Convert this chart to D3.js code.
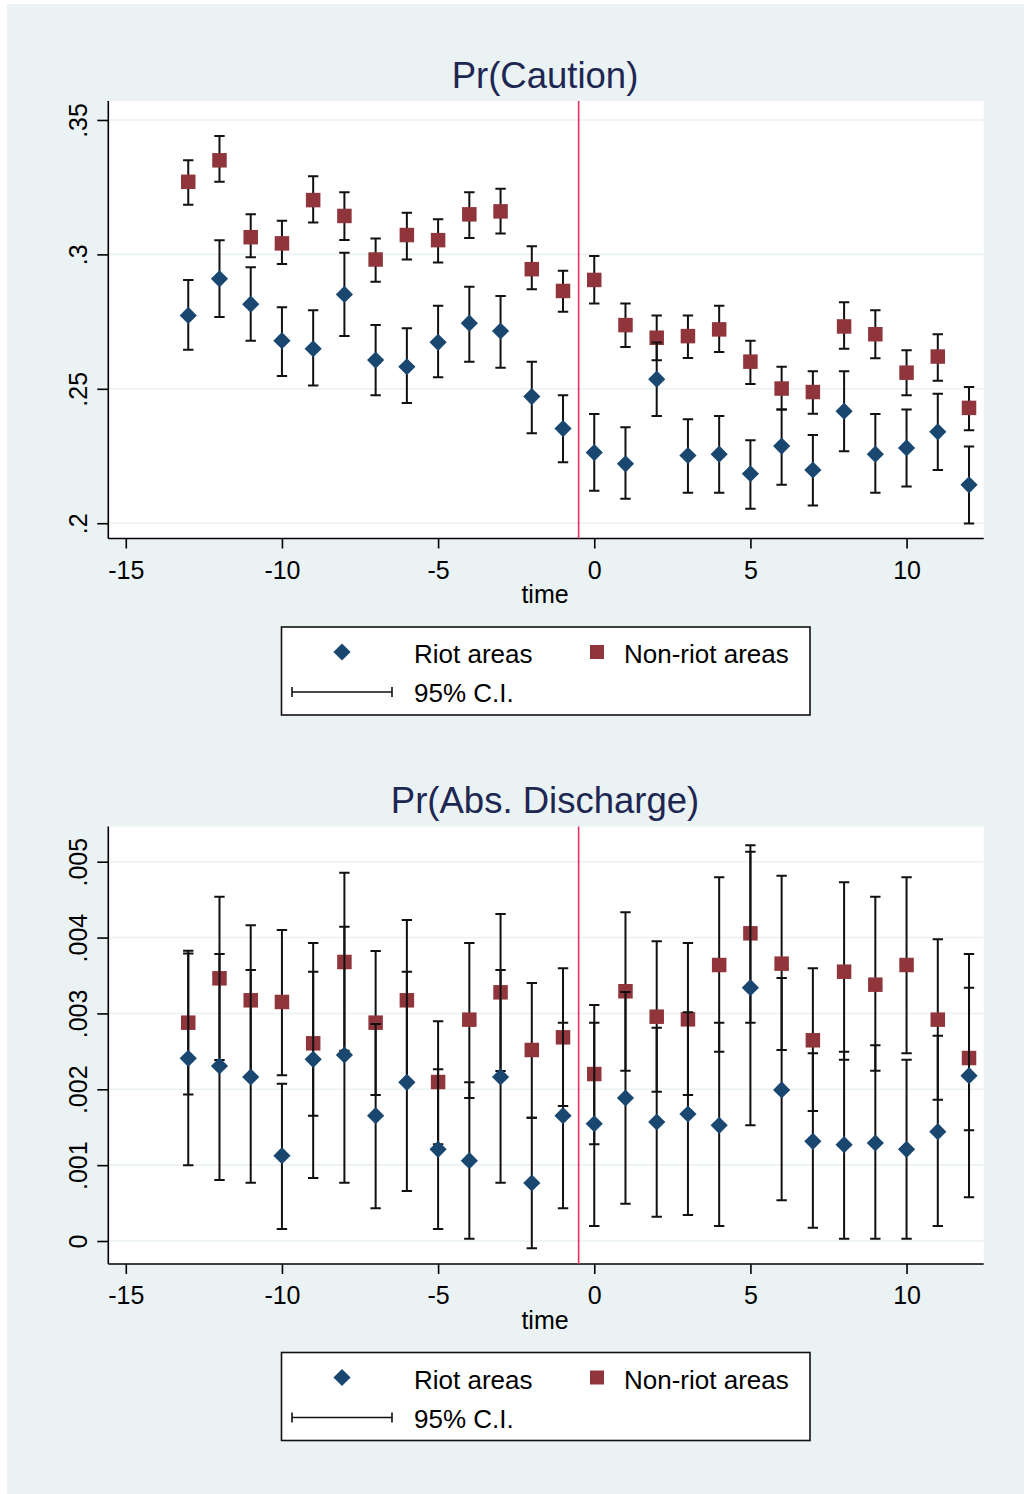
<!DOCTYPE html>
<html>
<head>
<meta charset="utf-8">
<script src="https://cdn.jsdelivr.net/npm/d3@7"></script>
<style>
  html, body { margin: 0; padding: 0; background: #ffffff; }
  svg { display: block; }
  text { font-family: "Liberation Sans", Arial, sans-serif; }
</style>
</head>
<body>
<div id="chart"></div>
<script>
// Event time relative to the riots
const time = [-13, -12, -11, -10, -9, -8, -7, -6, -5, -4, -3, -2, -1, 0, 1, 2, 3, 4, 5, 6, 7, 8, 9, 10, 11, 12];

// Pr(Caution): riot areas
const cautionRiot   = [.2773, .2909, .2815, .2679, .2649, .2851, .2607, .2582, .2673, .2744, .2715, .2471, .2352, .2263, .2221, .2536, .2252, .2257, .2184, .2287, .2198, .2417, .2257, .2280, .2340, .2143];
const cautionRiotLo = [.2645, .2767, .2679, .2548, .2512, .2696, .2476, .2447, .2543, .2601, .2578, .2335, .2227, .2121, .2091, .2399, .2113, .2113, .2054, .2143, .2066, .2268, .2113, .2137, .2198, .1999];
const cautionRiotHi = [.2905, .3053, .2952, .2803, .2792, .3006, .2737, .2725, .2809, .2880, .2845, .2601, .2476, .2406, .2357, .2672, .2387, .2399, .2309, .2423, .2328, .2565, .2406, .2423, .2482, .2285];

// Pr(Caution): non-riot areas
const cautionNon   = [.3270, .3350, .3064, .3041, .3202, .3143, .2981, .3072, .3053, .3149, .3160, .2945, .2864, .2905, .2737, .2690, .2696, .2721, .2601, .2501, .2488, .2732, .2703, .2560, .2620, .2429];
const cautionNonLo = [.3185, .3270, .2989, .2964, .3119, .3054, .2898, .2981, .2970, .3061, .3078, .2870, .2787, .2817, .2656, .2606, .2615, .2637, .2518, .2423, .2407, .2649, .2614, .2476, .2530, .2346];
const cautionNonHi = [.3350, .3440, .3149, .3125, .3291, .3231, .3059, .3155, .3131, .3231, .3244, .3030, .2939, .2994, .2817, .2773, .2773, .2809, .2679, .2582, .2565, .2822, .2792, .2643, .2703, .2507];

// Pr(Abs. Discharge): riot areas
const dischRiot   = [.002408, .002307, .002162, .001125, .002395, .002452, .001652, .002092, .001209, .001059, .002162, .000765, .001652, .001546, .001885, .001569, .001674, .001525, .003339, .001991, .001314, .001270, .001292, .001209, .001441, .002179];
const dischRiotLo = [.001000, .000804, .000769, .000158, .000830, .000769, .000431, .000659, .000158, .000030, .000769, -.000097, .000431, .000198, .000492, .000320, .000343, .000198, .001525, .000536, .000176, .000030, .000030, .000030, .000198, .000576];
const dischRiotHi = [.003790, .003783, .003572, .002074, .003928, .004143, .002861, .003550, .002263, .002092, .003572, .001626, .002878, .002878, .003282, .002812, .003015, .002878, .005132, .003467, .002474, .002496, .002580, .002390, .002706, .003783];

// Pr(Abs. Discharge): non-riot areas
const dischNon   = [.002878, .003463, .003173, .003151, .002606, .003678, .002878, .003173, .002096, .002918, .003278, .002518, .002685, .002201, .003292, .002957, .002922, .003638, .004056, .003656, .002646, .003550, .003379, .003638, .002918, .002412];
const dischNonLo = [.001930, .002386, .002175, .002184, .001652, .002509, .001925, .002113, .001274, .001885, .002241, .001626, .001780, .001274, .002245, .001968, .001925, .002496, .002878, .002518, .001714, .002390, .002245, .002474, .001863, .001459];
const dischNonHi = [.003827, .004539, .004161, .004100, .003550, .004855, .003823, .004232, .002896, .003928, .004310, .003401, .003595, .003111, .004333, .003951, .003928, .004794, .005216, .004816, .003595, .004728, .004539, .004794, .003977, .003339];

// Axis ticks and labels
const xTicks = [-15, -10, -5, 0, 5, 10];
const cautionTicks = [.2, .25, .3, .35];
const cautionTickLabels = [".2", ".25", ".3", ".35"];
const dischTicks = [0, .001, .002, .003, .004, .005];
const dischTickLabels = ["0", ".001", ".002", ".003", ".004", ".005"];
const riotDate = -0.5;

const seriesNames = ["Riot areas", "Non-riot areas"];
const ciLabel = "95% C.I.";

// Colours
const BG = "#eaf2f3";
const NAVY = "#1a476f";
const MAROON = "#90353b";
const VLINE = "#dc3363";
const TITLE = "#1e2652";

const W = 1024, H = 1494;
const svg = d3.select("#chart").append("svg")
  .attr("width", W).attr("height", H);

svg.append("rect").attr("x", 0).attr("y", 0).attr("width", W).attr("height", H).attr("fill", "#ffffff");
svg.append("rect").attr("x", 7).attr("y", 4).attr("width", W - 7).attr("height", H - 4).attr("fill", BG);

const diamondPath = r => `M0,${-r}L${r},0L0,${r}L${-r},0Z`;
const squarePath = s => `M${-s/2},${-s/2}h${s}v${s}h${-s}Z`;

function drawPanel(cfg) {
  const left = 108.3, right = 983.7;
  const top = cfg.top, bottom = cfg.top + 437.5;
  const g = svg.append("g");

  const x = d3.scaleLinear().domain([-15.56, 12.47]).range([left, right]);
  const y = d3.scaleLinear().domain(cfg.yDomain).range([bottom, top]);

  // plot region
  g.append("rect").attr("x", left).attr("y", top)
    .attr("width", right - left).attr("height", bottom - top).attr("fill", "#ffffff");

  // gridlines
  g.selectAll(".grid").data(cfg.yTicks).enter().append("line")
    .attr("x1", left).attr("x2", right)
    .attr("y1", d => y(d)).attr("y2", d => y(d))
    .attr("stroke", BG).attr("stroke-width", 1.6);

  // title
  g.append("text").attr("x", (left + right) / 2 - 1).attr("y", top - 13.5)
    .attr("text-anchor", "middle").attr("font-size", 36.5).attr("fill", TITLE)
    .text(cfg.title);

  // y axis
  const yAxis = d3.axisLeft(y).tickValues(cfg.yTicks)
    .tickFormat((d, i) => cfg.yTickLabels[i]).tickSize(11).tickPadding(0);
  const ya = g.append("g").attr("transform", `translate(${left},0)`).call(yAxis);
  ya.select(".domain").attr("stroke", "#000").attr("stroke-width", 1.6)
    .attr("d", `M0,${top}V${bottom}`);
  ya.selectAll(".tick line").attr("stroke", "#000").attr("stroke-width", 1.6);
  ya.selectAll(".tick text")
    .attr("font-size", 25).attr("fill", "#000").attr("font-family", "Liberation Sans, Arial, sans-serif")
    .attr("x", null).attr("dy", null)
    .attr("text-anchor", "middle")
    .attr("transform", "translate(-21,0) rotate(-90)");

  // x axis
  const xAxis = d3.axisBottom(x).tickValues(xTicks).tickSize(10).tickPadding(0)
    .tickFormat(d => d < 0 ? "-" + Math.abs(d) : String(d));
  const xa = g.append("g").attr("transform", `translate(0,${bottom})`).call(xAxis);
  xa.select(".domain").attr("stroke", "#000").attr("stroke-width", 1.6)
    .attr("d", `M${left},0H${right}`);
  xa.selectAll(".tick line").attr("stroke", "#000").attr("stroke-width", 1.6);
  xa.selectAll(".tick text")
    .attr("font-size", 25).attr("fill", "#000").attr("font-family", "Liberation Sans, Arial, sans-serif")
    .attr("y", 40).attr("dy", null);

  g.append("text").attr("x", (left + right) / 2 - 1).attr("y", bottom + 64.5)
    .attr("text-anchor", "middle").attr("font-size", 25).attr("fill", "#000")
    .text("time");

  // riot date marker
  g.append("line").attr("x1", x(riotDate)).attr("x2", x(riotDate))
    .attr("y1", top).attr("y2", bottom)
    .attr("stroke", VLINE).attr("stroke-width", 1.6);

  const cap = 5.2;
  function drawCI(lo, hi) {
    const d = time.map((t, i) => ({ t, lo: lo[i], hi: hi[i] }));
    const ci = g.append("g").attr("stroke", "#111").attr("stroke-width", 2).attr("fill", "none");
    ci.selectAll("path").data(d).enter().append("path")
      .attr("d", r => {
        const xx = x(r.t), y1 = y(r.hi), y0 = y(r.lo);
        return `M${xx - cap},${y1}H${xx + cap}M${xx},${y1}V${y0}M${xx - cap},${y0}H${xx + cap}`;
      });
  }
  function drawMarkers(vals, shape, color) {
    g.append("g").selectAll("path").data(time.map((t, i) => ({ t, v: vals[i] }))).enter()
      .append("path")
      .attr("transform", r => `translate(${x(r.t)},${y(r.v)})`)
      .attr("d", shape).attr("fill", color);
  }

  drawCI(cfg.nonLo, cfg.nonHi);
  drawMarkers(cfg.non, squarePath(14.5), MAROON);
  drawCI(cfg.riotLo, cfg.riotHi);
  drawMarkers(cfg.riot, diamondPath(8.6), NAVY);

  // legend
  const ly = cfg.top + 526;
  const lg = g.append("g");
  lg.append("rect").attr("x", 281.5).attr("y", ly).attr("width", 528.5).attr("height", 88)
    .attr("fill", "#ffffff").attr("stroke", "#111").attr("stroke-width", 1.6);
  lg.append("path").attr("transform", `translate(342,${ly + 25})`).attr("d", diamondPath(8.6)).attr("fill", NAVY);
  lg.append("text").attr("x", 414).attr("y", ly + 36).attr("font-size", 26).attr("fill", "#000").text(seriesNames[0]);
  lg.append("path").attr("transform", `translate(597,${ly + 25})`).attr("d", squarePath(14)).attr("fill", MAROON);
  lg.append("text").attr("x", 624).attr("y", ly + 36).attr("font-size", 26).attr("fill", "#000").text(seriesNames[1]);
  lg.append("path")
    .attr("d", `M292,${ly + 60}V${ly + 70}M292,${ly + 65}H392M392,${ly + 60}V${ly + 70}`)
    .attr("stroke", "#111").attr("stroke-width", 1.6).attr("fill", "none");
  lg.append("text").attr("x", 414).attr("y", ly + 75).attr("font-size", 26).attr("fill", "#000").text(ciLabel);
}

drawPanel({
  top: 101, title: "Pr(Caution)",
  yDomain: [0.19432, 0.35706],
  yTicks: cautionTicks, yTickLabels: cautionTickLabels,
  riot: cautionRiot, riotLo: cautionRiotLo, riotHi: cautionRiotHi,
  non: cautionNon, nonLo: cautionNonLo, nonHi: cautionNonHi
});

drawPanel({
  top: 826.5, title: "Pr(Abs. Discharge)",
  yDomain: [-0.000303, 0.005464],
  yTicks: dischTicks, yTickLabels: dischTickLabels,
  riot: dischRiot, riotLo: dischRiotLo, riotHi: dischRiotHi,
  non: dischNon, nonLo: dischNonLo, nonHi: dischNonHi
});
</script>
</body>
</html>
